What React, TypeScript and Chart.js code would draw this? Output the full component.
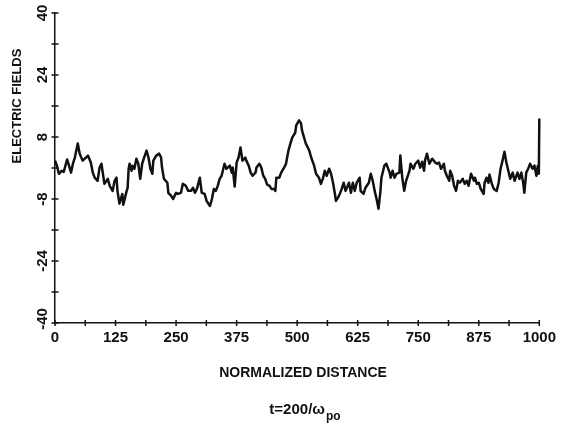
import React, { useEffect, useRef } from "react";
import { Chart, registerables } from "chart.js";

Chart.register(...registerables);

// Normalized distance (x) and electric field (y)
const distance = [
  0, 4, 8, 14, 18, 25, 29, 33, 37, 41, 47, 51, 57, 64, 68, 74, 78, 82, 88, 92,
  96, 98, 102, 109, 113, 119, 123, 127, 129, 133, 139, 141, 148, 150, 152, 154, 158, 160, 164, 168,
  172, 176, 180, 184, 189, 193, 197, 201, 203, 209, 215, 219, 221, 225, 232, 234, 240, 244, 250, 254,
  260, 264, 270, 275, 281, 285, 289, 293, 299, 303, 309, 313, 320, 324, 328, 332, 336, 340, 344, 350,
  354, 361, 365, 367, 371, 375, 379, 383, 387, 393, 395, 400, 404, 408, 414, 416, 422, 426, 430, 434,
  438, 443, 447, 453, 455, 457, 463, 467, 473, 477, 482, 486, 490, 496, 498, 504, 508, 510, 516, 518,
  525, 529, 535, 539, 545, 549, 553, 557, 561, 566, 570, 574, 578, 580, 584, 588, 592, 596, 600, 607,
  611, 615, 619, 623, 629, 631, 637, 641, 648, 652, 656, 660, 664, 668, 672, 674, 680, 684, 691, 693,
  697, 701, 705, 711, 713, 717, 721, 725, 732, 734, 740, 744, 750, 754, 758, 762, 764, 768, 773, 779,
  785, 789, 793, 797, 803, 805, 809, 814, 816, 820, 824, 828, 832, 836, 842, 846, 850, 854, 859, 865,
  867, 871, 875, 879, 885, 887, 891, 895, 897, 902, 906, 912, 916, 920, 924, 928, 932, 936, 940, 945,
  949, 955, 959, 963, 967, 969, 973, 977, 981, 986, 990, 994, 997, 999, 1000,
];
const field = [
  1.9, 0.6, -1.5, -0.7, -1.0, 2.2, 0.6, -1.2, 1.1, 2.7, 6.3, 3.7, 1.9, 2.7, 3.2, 1.4, -1.2, -2.5, -3.3, 0.1,
  1.1, -0.7, -4.1, -2.8, -4.6, -5.9, -3.3, -2.5, -5.9, -9.2, -6.7, -9.5, -5.9, -5.1, -0.2, 1.1, -0.7, 0.6, -0.2, 2.4,
  1.1, -2.8, 1.1, 2.7, 4.5, 2.7, -0.2, -1.5, 1.9, 3.2, 3.7, 2.7, 0.1, -2.8, -3.8, -6.4, -7.2, -8.0, -6.4, -6.7,
  -6.4, -4.1, -4.6, -5.9, -5.9, -5.1, -6.4, -5.4, -2.5, -6.4, -6.7, -8.5, -9.8, -8.0, -5.4, -5.9, -4.6, -2.8, -2.0, 1.1,
  -0.2, 0.6, -1.2, 0.1, -4.8, 1.4, 2.7, 5.3, 1.9, 2.7, 1.9, 0.6, -1.2, -2.0, -1.2, 0.1, 1.1, 0.1, -2.0, -2.8,
  -4.3, -4.6, -5.4, -5.4, -5.9, -2.5, -2.5, -1.2, 0.1, 1.1, 4.5, 6.3, 7.9, 9.1, 11.0, 12.3, 11.5, 9.7, 7.1, 6.3,
  4.5, 2.7, 0.6, -1.5, -2.5, -4.1, -2.8, -0.7, -2.0, -0.2, -1.5, -3.8, -6.7, -8.5, -7.7, -6.7, -5.4, -3.8, -5.9, -3.8,
  -6.4, -3.8, -5.9, -3.8, -2.5, -5.9, -6.7, -5.1, -3.8, -1.5, -3.3, -5.9, -8.0, -10.5, -5.9, -2.5, 0.6, 1.1, -1.2, -2.5,
  -0.7, -2.5, -1.5, -1.2, 3.2, -2.5, -5.9, -3.3, -0.7, 1.1, -0.2, 1.1, 1.9, 0.1, 1.6, -0.7, 1.9, 3.7, 1.1, 2.4,
  1.4, 1.1, 1.4, -0.2, 1.1, -0.7, -2.0, -3.3, -0.7, -2.0, -4.6, -5.9, -3.3, -3.8, -2.8, -4.1, -3.3, -4.6, -1.5, -3.3,
  -2.5, -4.1, -3.8, -5.4, -6.7, -3.8, -2.5, -3.8, -1.7, -4.1, -5.4, -5.9, -3.8, -0.2, 1.9, 4.2, 1.4, -0.7, -2.8, -1.2,
  -3.3, -1.2, -2.8, -1.2, -4.1, -6.4, -1.2, -0.2, 1.1, -0.2, 0.6, -2.0, 0.6, -1.5, 12.8,
];

const xTickLabels = ["0", "125", "250", "375", "500", "625", "750", "875", "1000"];
const yTickLabels = ["40", "24", "8", "-8", "-24", "-40"];
const yTitle = "ELECTRIC FIELDS";
const xTitle = "NORMALIZED DISTANCE";
const subMain = "t=200/ω";
const subScript = "po";

const INK = "#111";
const FONT = '"Liberation Sans", Arial, sans-serif';

const decor = {
  id: "decor",
  afterDraw(chart: any) {
    const ctx = chart.ctx as CanvasRenderingContext2D;
    const xs = chart.scales.x;
    const ys = chart.scales.y;
    const { left, bottom } = chart.chartArea;
    ctx.save();
    ctx.strokeStyle = INK;
    ctx.lineWidth = 1.5;
    ctx.beginPath();
    ys.ticks.forEach((t: any) => {
      const p = ys.getPixelForValue(t.value);
      ctx.moveTo(left - 3.5, p);
      ctx.lineTo(left + 3.5, p);
    });
    xs.ticks.forEach((t: any) => {
      const p = xs.getPixelForValue(t.value);
      ctx.moveTo(p, bottom - 3);
      ctx.lineTo(p, bottom + 3);
    });
    ctx.stroke();

    ctx.fillStyle = INK;
    ctx.textAlign = "center";
    ctx.textBaseline = "middle";
    ctx.font = `bold 15px ${FONT}`;
    yTickLabels.forEach((l) => {
      let p = ys.getPixelForValue(Number(l));
      if (Number(l) === -40) p -= 4;
      ctx.save();
      ctx.translate(43, p);
      ctx.rotate(-Math.PI / 2);
      ctx.fillText(l, 0, 0);
      ctx.restore();
    });

    ctx.font = `bold 13px ${FONT}`;
    ctx.save();
    ctx.translate(17.5, 106);
    ctx.rotate(-Math.PI / 2);
    ctx.fillText(yTitle, 0, 0);
    ctx.restore();

    ctx.font = `bold 14px ${FONT}`;
    ctx.fillText(xTitle, 303, 373);

    ctx.font = `bold 15px ${FONT}`;
    const w1 = ctx.measureText(subMain).width;
    ctx.font = `bold 12px ${FONT}`;
    const w2 = ctx.measureText(subScript).width;
    const start = 305 - (w1 + w2 + 1) / 2;
    ctx.textAlign = "left";
    ctx.font = `bold 15px ${FONT}`;
    ctx.fillText(subMain, start, 410);
    ctx.font = `bold 12px ${FONT}`;
    ctx.fillText(subScript, start + w1 + 1, 417);
    ctx.restore();
  },
};

export default function App() {
  const ref = useRef<HTMLCanvasElement | null>(null);
  useEffect(() => {
    if (!ref.current) return;
    const points = distance.map((x, i) => ({ x, y: field[i] }));
    const chart = new Chart(ref.current, {
      type: "line",
      data: {
        datasets: [
          {
            data: points,
            borderColor: INK,
            borderWidth: 2.5,
            pointRadius: 0,
            tension: 0,
            fill: false,
            borderJoinStyle: "round",
            clip: false as any,
          },
        ],
      },
      options: {
        animation: false,
        responsive: false,
        devicePixelRatio: 1,
        parsing: false as any,
        layout: { padding: { left: 0, top: 13, right: 19, bottom: 0 } },
        plugins: {
          legend: { display: false },
          tooltip: { enabled: false },
          title: { display: false },
        },
        scales: {
          x: {
            type: "linear",
            min: 0,
            max: 1000,
            ticks: {
              stepSize: 62.5,
              autoSkip: false,
              maxRotation: 0,
              minRotation: 0,
              color: INK,
              padding: 6,
              font: { family: FONT, size: 15, weight: "bold" },
              callback: (v: any) => (xTickLabels.includes(String(v)) ? String(v) : ""),
            },
            grid: { display: false, drawTicks: false },
            border: { display: true, color: INK, width: 1.5 },
            afterFit: (s: any) => {
              s.height = 106;
            },
          },
          y: {
            type: "linear",
            min: -40,
            max: 40,
            ticks: { stepSize: 8, display: false },
            grid: { display: false, drawTicks: false },
            border: { display: true, color: INK, width: 1.5 },
            afterFit: (s: any) => {
              s.width = 55;
            },
          },
        },
      },
      plugins: [decor],
    });
    return () => chart.destroy();
  }, []);
  return (
    <div style={{ position: "absolute", left: 0, top: 0, width: 562, height: 429, background: "#fff" }}>
      <canvas ref={ref} width={562} height={429} style={{ display: "block" }} />
    </div>
  );
}
